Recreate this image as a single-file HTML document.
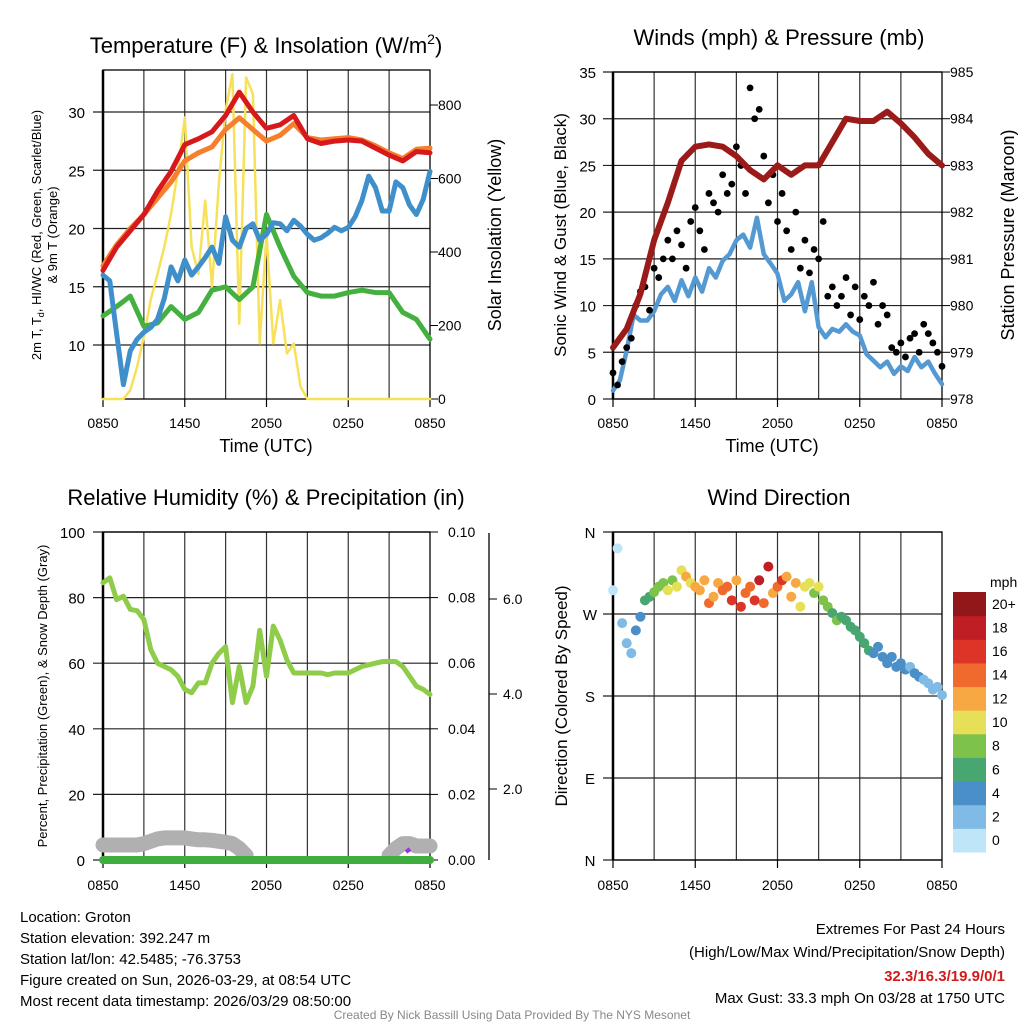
<!DOCTYPE html>
<html><head><meta charset="utf-8"><style>
body{margin:0;background:#fff}
svg{display:block;font-family:"Liberation Sans",sans-serif}
</style></head><body>
<svg id="s" width="1024" height="1024" viewBox="0 0 1024 1024">
<rect width="1024" height="1024" fill="#fff"/>
</svg>
<script>
// ---- data (hourly / half-hourly, hours since 0850 UTC) ----
const xTickLabels=["0850","1450","2050","0250","0850"];
const tempRed=[16.4,18.4,19.8,21.2,23.2,24.9,27.2,27.7,28.3,29.7,31.7,30,28.6,28.9,29.7,27.7,27.3,27.5,27.6,27.5,26.9,26.3,25.8,26.6,26.5];
const tempOrange=[16.8,18.6,20,21.2,22.6,24,25.8,26.5,27,28.5,29.5,28.5,27.5,28,29,27.8,27.6,27.7,27.8,27.6,27.1,26.5,26,26.8,26.9];
const tempGreen=[12.5,13.3,14.2,11.6,11.9,13.3,12.2,12.8,14.7,15,13.9,15,21.2,18.4,15.9,14.5,14.2,14.2,14.5,14.7,14.5,14.5,12.8,12.2,10.5];
const tempBlue=[16,15.5,11,6.6,9.5,10.5,11.1,11.5,12.2,14,16.7,15.5,17.3,16,16.7,17.5,18.4,17,21,19,18.4,20,20.4,19,19.5,20.5,20.4,19.8,20.7,20.2,19.5,19,19.2,19.6,20.1,19.8,20.1,21,22.4,24.5,23.5,21.5,21.5,24,23.5,22,21.2,22.5,24.9];
const solar=[0,0,0,0,24,88,170,270,340,414,504,622,766,414,340,540,305,585,785,884,205,875,830,151,450,151,269,124,151,33,0,0,0,0,0,0,0,0,0,0,0,0,0,0,0,0,0,0,0];
const pressure=[979.1,979.5,980.25,981.4,982.2,983.1,983.4,983.45,983.4,983.2,982.9,982.7,983,982.8,983,983,983.5,984,983.95,983.95,984.15,983.9,983.6,983.25,983];
const sonicWind=[0.9,2,5.2,9,8.4,8.4,9.4,11.2,12,10.5,12.7,11,13,11.5,14,13,14.8,15.5,17,17.6,16.2,19.4,15.5,14.5,13.4,10.5,11.2,12.5,9.4,12.5,7.7,6.6,7.5,7.2,8,7.2,6.8,4.8,4.1,3.4,4,2.7,3.5,3,4.5,3.4,4,2.7,1.6];
const gusts=[2.8,1.5,4,5.5,6.5,10,11.5,12,9.5,14,13,15,17,15,18,16.5,14,19,20.5,18,16,22,21,20,24,22,23,27,25,22,33.3,30,31,26,21,24,19,22,18,16,20,14,17,13.5,16,15,19,11,12,10,11,13,9,12,8.5,11,10,12.5,8,10,9,5.5,5,6,4.5,6.5,7,5,8,7,6,5,3.5];
const rh=[84.5,86,79.4,80.4,76.4,76,73.3,64.2,60,59,58,56,52,51,54,54,60,63,65,48,59,48,53,70,56,71.3,67,61,57,57,57,57,57,56.5,57,57,57,58,59,59.5,60,60.5,60.6,60.5,59,56,53,52,50.5];
const snowDepth=[0.82,0.82,0.82,0.82,0.82,0.82,0.85,0.9,0.95,0.97,0.97,0.97,0.97,0.95,0.93,0.93,0.92,0.9,0.88,0.85,0.75,0.6,null,null,null,null,null,null,null,null,null,null,null,null,null,null,null,null,null,null,null,null,0.6,0.75,0.85,0.85,0.8,0.8,0.8];
const precip=[0,0,0,0,0,0,0,0,0,0,0,0,0,0,0,0,0,0,0,0,0,0,0,0,0];
const windDir=[296,342,260,238,227,252,267,285,289,294,300,304,296,307,300,318,311,304,300,296,307,282,289,304,296,300,285,307,278,293,300,285,307,282,322,293,300,307,311,289,304,278,300,304,293,300,285,278,271,263,267,263,256,252,245,238,230,227,234,223,216,223,212,216,209,212,205,201,198,194,187,190,181];
const dirSpeed=[1,1,2,3,3,4,5,7,7,8,9,8,10,9,11,10,12,11,12,13,12,14,12,13,14,15,16,13,17,14,15,16,18,14,19,13,15,17,12,13,12,11,10,11,9,10,9,8,7,8,6,7,7,6,6,7,6,5,5,4,4,5,4,4,4,3,4,4,3,3,3,2,2];
const speedBins=[0,2,4,6,8,10,12,14,16,18,20];
const binLabels=["0","2","4","6","8","10","12","14","16","18","20+"];
const binColors=["#bfe6f8","#7fbbe4","#4a8fc8","#48a670","#7cc24b","#e6df58","#f7a843","#ef6a2c","#dc3527","#be1e24","#911719"];

const NS="http://www.w3.org/2000/svg", S=document.getElementById('s');
function el(tag,attrs,parent){const e=document.createElementNS(NS,tag);for(const k in attrs)e.setAttribute(k,attrs[k]);(parent||S).appendChild(e);return e;}
function txt(x,y,t,size,anchor,extra){const e=el('text',Object.assign({x:x,y:y,'font-size':size,'text-anchor':anchor||'middle',fill:'#000'},extra||{}));e.textContent=t;return e;}
function lin(d0,d1,r0,r1){return v=>r0+(v-d0)*(r1-r0)/(d1-d0);}
function line(arr,step,xs,ys,color,w,name){
  let d='',pen=false;
  arr.forEach((v,i)=>{if(v===null){pen=false;return;}d+=(pen?'L':'M')+xs(i*step).toFixed(1)+','+ys(v).toFixed(1);pen=true;});
  const p=el('path',{d:d,fill:'none',stroke:color,'stroke-width':w,'stroke-linejoin':'round','stroke-linecap':'round'});
  
  
  return p;
}
function frame(x0,x1,y0,y1,ys,yticks,name){
  const g=el('g',{});
  
  
  for(let h=3;h<24;h+=3){const x=x0+h*(x1-x0)/24;el('line',{x1:x,x2:x,y1:y0,y2:y1,stroke:'#333','stroke-width':1.2},g);}
  yticks.forEach(v=>{const y=ys(v);el('line',{x1:x0-10,x2:x1,y1:y,y2:y,stroke:'#222','stroke-width':1.2},g);});
  el('rect',{x:x0,y:y0,width:x1-x0,height:y1-y0,fill:'none',stroke:'#000','stroke-width':1.3},g);
  el('line',{x1:x0,x2:x0,y1:y0,y2:y1,stroke:'#000','stroke-width':2.5},g);
  xTickLabels.forEach((l,i)=>{const x=x0+i*(x1-x0)/4;el('line',{x1:x,x2:x,y1:y1,y2:y1+8,stroke:'#000','stroke-width':1.2},g);});
  return g;
}
function xlabels(x0,x1,y){xTickLabels.forEach((l,i)=>{const t=txt(x0+i*(x1-x0)/4,y,l,14);});}

// ---- Panel 1 ----
{const x0=103,x1=430,y0=70,y1=399;
const xs=lin(0,24,x0,x1), ys=lin(10,30,345,112), yr=lin(0,800,399,105);
frame(x0,x1,y0,y1,ys,[10,15,20,25,30],'temperature-plot-frame');
[10,15,20,25,30].forEach(v=>txt(85,ys(v)+6,String(v),15,'end'));
[0,200,400,600,800].forEach(v=>{el('line',{x1:x1,x2:x1+8,y1:yr(v),y2:yr(v),stroke:'#000'});txt(438,yr(v)+5,String(v),14,'start');});
line(solar,0.5,xs,yr,'#f7e15a',2.5,'solar-insolation-line');
line(tempOrange,1,xs,ys,'#f57f2a',5,'temp-9m-line');
line(tempRed,1,xs,ys,'#d7191c',5,'temp-2m-line');
line(tempGreen,1,xs,ys,'#44b040',5,'dewpoint-line');
line(tempBlue,0.5,xs,ys,'#3f8fcb',5,'wind-chill-line');
xlabels(x0,x1,428);
txt(266,452,'Time (UTC)',18);
const t1=txt(266,53,'Temperature (F) & Insolation (W/m',22);
const ts=el('tspan',{dy:-9,'font-size':14});ts.textContent='2';t1.appendChild(ts);const ts2=el('tspan',{dy:9});ts2.textContent=')';t1.appendChild(ts2);
const a=txt(0,0,'2m T, T',13,'middle',{transform:'translate(41,235) rotate(-90)'});
const sb=el('tspan',{'font-size':9,dy:3},a);sb.textContent='d';const a2=el('tspan',{dy:-3},a);a2.textContent=', HI/WC (Red, Green, Scarlet/Blue)';
txt(0,0,'& 9m T (Orange)',13,'middle',{transform:'translate(57,235) rotate(-90)'});
txt(0,0,'Solar Insolation (Yellow)',18,'middle',{transform:'translate(501,235) rotate(-90)'});
}
// ---- Panel 2 ----
{const x0=613,x1=942,y0=72,y1=399;
const xs=lin(0,24,x0,x1), ys=lin(0,35,y1,y0), yp=lin(978,985,y1,y0);
frame(x0,x1,y0,y1,ys,[0,5,10,15,20,25,30,35],'wind-plot-frame');
[0,5,10,15,20,25,30,35].forEach(v=>txt(596,ys(v)+6,String(v),15,'end'));
[978,979,980,981,982,983,984,985].forEach(v=>{el('line',{x1:x1,x2:x1+8,y1:yp(v),y2:yp(v),stroke:'#000'});txt(950,yp(v)+5,String(v),14,'start');});
line(sonicWind,0.5,xs,ys,'#5599d2',4.5,'sonic-wind-line');
gusts.forEach((g,i)=>{const c=el('circle',{cx:xs(i/3),cy:ys(g),r:3.4,fill:'#000'});});
line(pressure,1,xs,yp,'#9b1a1a',6,'pressure-line');
xlabels(x0,x1,428);
txt(772,452,'Time (UTC)',18);
txt(779,45,'Winds (mph) & Pressure (mb)',22);
txt(0,0,'Sonic Wind & Gust (Blue, Black)',17,'middle',{transform:'translate(566,235) rotate(-90)'});
txt(0,0,'Station Pressure (Maroon)',18,'middle',{transform:'translate(1014,235) rotate(-90)'});
}
// ---- Panel 3 ----
{const x0=103,x1=430,y0=532,y1=860;
const xs=lin(0,24,x0,x1), ys=lin(0,100,y1,y0), yr=lin(0,0.1,y1,y0), ysn=lin(0,2,884,789);
frame(x0,x1,y0,y1,ys,[0,20,40,60,80,100],'humidity-plot-frame');
[0,20,40,60,80,100].forEach(v=>txt(85,ys(v)+6,String(v),15,'end'));
[0,0.02,0.04,0.06,0.08,0.1].forEach(v=>{el('line',{x1:x1,x2:x1+8,y1:yr(v),y2:yr(v),stroke:'#000'});txt(448,yr(v)+5,v.toFixed(2),14,'start');});
el('line',{x1:489,x2:489,y1:533,y2:860,stroke:'#000','stroke-width':1.3});
[2,4,6].forEach(v=>{el('line',{x1:489,x2:497,y1:ysn(v),y2:ysn(v),stroke:'#000'});txt(503,ysn(v)+5,v.toFixed(1),14,'start');});
line(snowDepth,0.5,xs,ysn,'#b0b0b0',15,'snow-depth-line');
line(precip,1,xs,yr,'#3fae3f',8,'precipitation-line');
el('path',{d:'M406,852 L410,849',stroke:'#9b30e0','stroke-width':4,fill:'none'});
line(rh,0.5,xs,ys,'#8fcc4a',5,'relative-humidity-line');
xlabels(x0,x1,890);
txt(266,505,'Relative Humidity (%) & Precipitation (in)',22);
txt(0,0,'Percent, Precipitation (Green), & Snow Depth (Gray)',13,'middle',{transform:'translate(47,696) rotate(-90)'});
}
// ---- Panel 4 ----
{const x0=613,x1=942,y0=532,y1=860;
const xs=lin(0,24,x0,x1), ys=lin(0,360,y1,y0);
frame(x0,x1,y0,y1,ys,[0,90,180,270,360],'wind-direction-frame');
[['N',360],['W',270],['S',180],['E',90],['N',0]].forEach(d=>txt(590,ys(d[1])+6,d[0],15));
function colorFor(s){let k=0;speedBins.forEach((b,i)=>{if(s>=b)k=i;});return binColors[k];}
windDir.forEach((d,i)=>{const c=el('circle',{cx:xs(i/3),cy:ys(d),r:5,fill:colorFor(dirSpeed[i])});});
xlabels(x0,x1,890);
txt(779,505,'Wind Direction',22);
txt(0,0,'Direction (Colored By Speed)',17,'middle',{transform:'translate(567,696) rotate(-90)'});
const cb=el('g',{});
const h=260/11;
binColors.forEach((c,i)=>{const y=852-(i+1)*h;el('rect',{x:953,y:y,width:33,height:h+0.5,fill:c},cb);txt(992,y+h/2+5,binLabels[i],14,'start');});
txt(990,587,'mph',14,'start');
}
// ---- footer text ----
["Location: Groton","Station elevation: 392.247 m","Station lat/lon: 42.5485; -76.3753","Figure created on Sun, 2026-03-29, at 08:54 UTC","Most recent data timestamp: 2026/03/29 08:50:00"].forEach((l,i)=>txt(20,922+i*21,l,15,'start'));
txt(1005,934,'Extremes For Past 24 Hours',15,'end');
txt(1005,957,'(High/Low/Max Wind/Precipitation/Snow Depth)',15,'end');
txt(1005,981,'32.3/16.3/19.9/0/1',15,'end',{fill:'#d01c1c','font-weight':'bold'});
txt(1005,1003,'Max Gust: 33.3 mph On 03/28 at 1750 UTC',15,'end');
txt(512,1019,'Created By Nick Bassill Using Data Provided By The NYS Mesonet',12,'middle',{fill:'#888'});
</script>
</body></html>
